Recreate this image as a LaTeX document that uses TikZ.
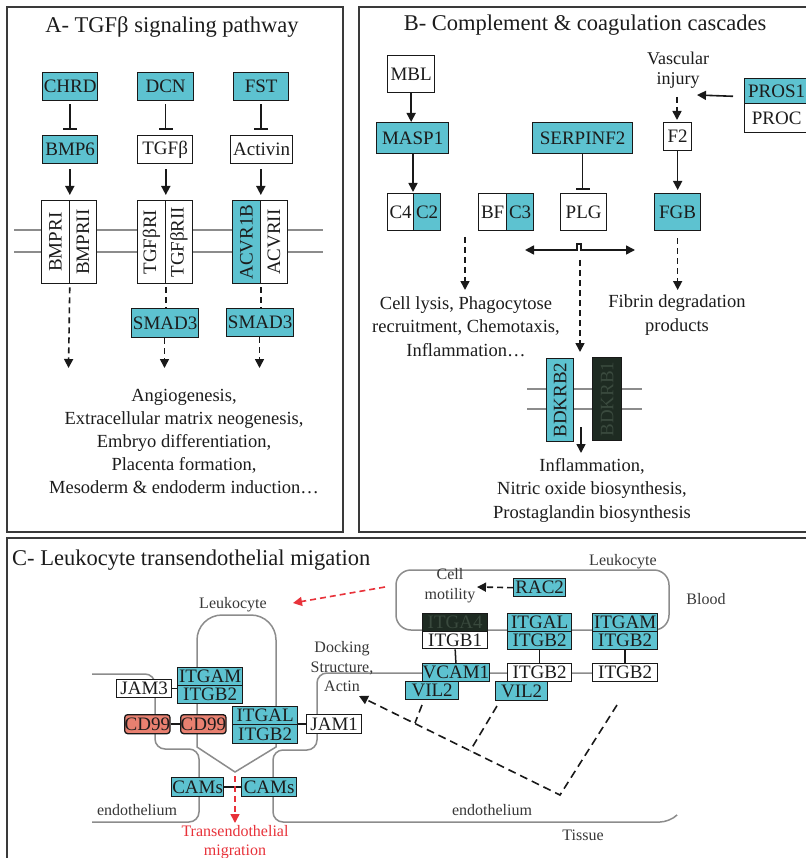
\documentclass[tikz,border=0pt]{standalone}
\usepackage{fontspec}
\setmainfont{Liberation Serif}
\usetikzlibrary{arrows.meta}
\definecolor{cy}{RGB}{93,194,208}
\definecolor{sal}{RGB}{232,128,112}
\definecolor{dk}{RGB}{30,43,34}
\definecolor{dktxt}{RGB}{58,74,62}
\definecolor{txt}{RGB}{28,28,28}
\definecolor{gr}{RGB}{140,140,140}
\definecolor{rd}{RGB}{232,50,58}
\definecolor{pnl}{RGB}{58,58,58}
\newcommand{\fsz}[2]{\fontsize{#1}{#2}\selectfont}
\begin{document}
\begin{tikzpicture}[x=1pt,y=-1pt,
  box/.style={draw=black!90,line width=1.3pt,inner sep=0pt,anchor=north west,text=txt,font=\fsz{19}{19}},
  cbox/.style={box,fill=cy},
  wbox/.style={box,fill=white},
  rbox/.style={box,fill=sal,rounded corners=3pt},
  dbox/.style={box,fill=dk,text=dktxt},
  cc/.style={font=\fsz{19}{19}},
  title/.style={font=\fsz{22.5}{22.5},text=txt,inner sep=0pt},
  lbl/.style={font=\fsz{18.5}{23.5},text=txt,align=center,inner sep=0pt},
  slbl/.style={font=\fsz{16}{19.5},text=black!78,align=center,inner sep=0pt},
  panel/.style={draw=pnl,line width=2pt},
  memb/.style={draw=gr,line width=1.6pt},
  cell/.style={draw=gr,line width=1.5pt},
  arr/.style={draw=black!90,line width=1.6pt,-{Triangle[length=9pt,width=9pt]}},
  darr/.style={arr,dash pattern=on 6pt off 4pt},
  larr/.style={arr,dash pattern=on 8pt off 5pt},
  dsh/.style={draw=black!90,line width=1.6pt,dash pattern=on 6pt off 4pt},
  ldsh/.style={draw=black!90,line width=1.6pt,dash pattern=on 8pt off 5pt},
  inh/.style={draw=black!90,line width=1.5pt,-{Bar[width=14pt,line width=1.5pt]}},
  rarr/.style={draw=rd,line width=1.6pt,dash pattern=on 6pt off 4pt,-{Triangle[length=9pt,width=9pt]}},
  conn/.style={draw=black!90,line width=1.5pt}]
\useasboundingbox (0,0) rectangle (805,858);
\fill[white] (0,0) rectangle (805,858);
% panels
\draw[panel] (7,7) rectangle (343,532);
\draw[panel] (359,7) rectangle (820,532);
\draw[panel] (7,538) rectangle (820,875);

% ---------------- Panel A
\node[title] (tA) at (172,27) {A- TGFβ signaling pathway};
\node[cbox,minimum width=55,minimum height=28] (chrd) at (42,72) {CHRD};
\node[cbox,minimum width=56,minimum height=28] (dcn) at (137,72) {DCN};
\node[cbox,minimum width=55,minimum height=28] (fst) at (233,72) {FST};
\node[cbox,minimum width=55,minimum height=28] (bmp6) at (42,135) {BMP6};
\node[wbox,minimum width=55,minimum height=28] (tgfb) at (137,135) {TGFβ};
\node[wbox,minimum width=62,minimum height=28] (act) at (230,135) {Activin};
\draw[inh,shorten <=3pt,shorten >=5pt] (chrd.south) -- (chrd.south |- bmp6.north);
\draw[inh,shorten <=3pt,shorten >=5pt] (dcn.south) -- (dcn.south |- tgfb.north);
\draw[inh,shorten <=3pt,shorten >=5pt] (fst.south) -- (fst.south |- act.north);
\draw[memb] (14,230) -- (323,230);
\draw[memb] (14,252) -- (323,252);
\node[wbox,minimum width=27.5,minimum height=83] (bmpr1) at (41,200) {\rotatebox{90}{BMPRI}};
\node[wbox,minimum width=27.5,minimum height=83] (bmpr2) at (68.5,200) {\rotatebox{90}{BMPRII}};
\node[wbox,minimum width=27.5,minimum height=83] (tgfr1) at (137,200) {\rotatebox{90}{TGFβRI}};
\node[wbox,minimum width=27.5,minimum height=83] (tgfr2) at (164.5,200) {\rotatebox{90}{TGFβRII}};
\node[cbox,minimum width=27.5,minimum height=83] (acvr1) at (232,200) {\rotatebox{90}{ACVR1B}};
\node[wbox,minimum width=27.5,minimum height=83] (acvr2) at (259.5,200) {\rotatebox{90}{ACVRII}};
\draw[arr,shorten <=5pt,shorten >=5pt] (bmpr1.north east |- bmp6.south) -- (bmpr1.north east);
\draw[arr,shorten <=5pt,shorten >=5pt] (tgfr1.north east |- tgfb.south) -- (tgfr1.north east);
\draw[arr,shorten <=5pt,shorten >=5pt] (acvr1.north east |- act.south) -- (acvr1.north east);
\node[cbox,minimum width=67,minimum height=29] (smad3a) at (131,308) {SMAD3};
\node[cbox,minimum width=67,minimum height=28] (smad3b) at (226,308) {SMAD3};
\coordinate (ea1) at (68.5,368);
\coordinate (ea2) at (164.5,368);
\coordinate (ea3) at (259.5,368);
\draw[darr,shorten <=3pt] (bmpr1.south east) -- (ea1);
\draw[dsh,shorten <=3pt] (tgfr1.south east) -- (tgfr1.south east |- smad3a.north);
\draw[dsh,shorten <=3pt] (acvr1.south east) -- (acvr1.south east |- smad3b.north);
\draw[darr] (ea2 |- smad3a.south) -- (ea2);
\draw[darr] (ea3 |- smad3b.south) -- (ea3);
\node[lbl,font=\fsz{18.5}{23.2}] (txA) at (184,441.5) {Angiogenesis,\\Extracellular matrix neogenesis,\\Embryo differentiation,\\Placenta formation,\\Mesoderm \& endoderm induction…};

% ---------------- Panel B
\node[title] (tB) at (585,25) {B- Complement \& coagulation cascades};
\node[wbox,minimum width=47,minimum height=37] (mbl) at (387,55) {MBL};
\node[cbox,minimum width=72,minimum height=31] (masp1) at (376,122) {MASP1};
\node[wbox,minimum width=26,minimum height=37] (c4) at (387,193) {C4};
\node[cbox,minimum width=27,minimum height=37] (c2) at (413,193) {C2};
\node[wbox,minimum width=28,minimum height=37] (bf) at (478,193) {BF};
\node[cbox,minimum width=27,minimum height=37] (c3) at (506,193) {C3};
\node[cbox,minimum width=100,minimum height=31] (serp) at (532,122) {SERPINF2};
\node[wbox,minimum width=46,minimum height=37] (plg) at (560,193) {PLG};
\node[wbox,minimum width=28,minimum height=28] (f2) at (663,122) {F2};
\node[cbox,minimum width=46,minimum height=37] (fgb) at (654,193) {FGB};
\node[cbox,minimum width=64,minimum height=25] (pros1) at (744,78) {PROS1};
\node[wbox,minimum width=64,minimum height=29] (proc) at (744,103) {PROC};
\draw[arr] (mbl.south) -- (mbl.south |- masp1.north);
\draw[arr,shorten >=1pt] (c2.north west |- masp1.south) -- (c2.north west);
\draw[inh,shorten >=3pt] (serp.south) -- (serp.south |- plg.north);
\node[lbl,font=\fsz{18}{20}] (vasc) at (678,70) {Vascular\\injury};
\coordinate (vi1) at (677,97);
\draw[darr,shorten >=2pt] (vi1) -- (vi1 |- f2.north);
\coordinate (pt) at (697,95);
\draw[arr] ([xshift=-11pt,yshift=8pt]pros1.south west) -- (pt);
\draw[arr,shorten >=3pt] (f2.south) -- (f2.south |- fgb.north);
\coordinate (d1s) at (465,237);
\coordinate (d1e) at (465,290);
\draw[darr] (d1s) -- (d1e);
\draw[darr,shorten <=7pt] (fgb.south) -- (fgb.south |- d1e);
\coordinate (dbl) at (525,250);
\coordinate (dbr) at (635,250);
\draw[draw=black!90,line width=1.6pt,{Triangle[length=9pt,width=9pt]}-{Triangle[length=9pt,width=9pt]}] (dbl) -- (577,250) -- (577,244) -- (581,244) -- (581,250) -- (dbr);
\coordinate (p1) at (580,260);
\coordinate (p2) at (580,352);
\draw[darr] (p1) -- (p2);
\node[lbl] (txB1) at (466,326.5) {Cell lysis, Phagocytose\\recruitment, Chemotaxis,\\Inflammation…};
\node[lbl] (txB2) at (677,315) {Fibrin degradation\\products};
\draw[memb] (527,389) -- (642,389);
\draw[memb] (527,409) -- (642,409);
\node[cbox,minimum width=27,minimum height=83] (bdk2) at (546,358) {\rotatebox{90}{BDKRB2}};
\node[dbox,minimum width=29,minimum height=83] (bdk1) at (592,357) {\rotatebox{90}{BDKRB1}};
\coordinate (b1) at (581,427);
\coordinate (b2) at (581,453);
\draw[arr] (b1) -- (b2);
\node[lbl] (txB3) at (592,490) {Inflammation,\\Nitric oxide biosynthesis,\\Prostaglandin biosynthesis};

% ---------------- Panel C
\node[title,anchor=west] (tC) at (12,560) {C- Leukocyte transendothelial migation};
% cells
\draw[cell] (235,772) -- (197,747) -- (197,640) arc[start angle=180,end angle=270,radius=25] -- (251,615) arc[start angle=270,end angle=360,radius=25] -- (276,747) -- cycle;
\draw[cell,rounded corners=15pt] (396,570) rectangle (669,630);
\draw[cell,rounded corners=10pt] (92,674) -- (155,674) -- (155,749) -- (199,749) -- (199,822) -- (92,822);
\draw[cell,rounded corners=10pt] (657,673) -- (317,673) -- (317,750) -- (273,750) -- (273,822) -- (670,822) -- (677,815);
% labels
\node[slbl] (leu1) at (233,605) {Leukocyte};
\node[slbl] (leu2) at (623,562) {Leukocyte};
\node[slbl] (mot) at (450,585.5) {Cell\\motility};
\node[slbl] (blood) at (706,599) {Blood};
\node[slbl] (dock) at (342,667) {Docking\\Structure,\\Actin};
\node[slbl] (endo1) at (137,810) {endothelium};
\node[slbl] (endo2) at (492,810) {endothelium};
\node[slbl] (tis) at (583,835) {Tissue};
\node[slbl,text=rd] (trans) at (235,842) {Transendothelial\\migration};
% left boxes
\node[cbox,cc,minimum width=65,minimum height=18] (itgam1) at (177,667) {ITGAM};
\node[cbox,cc,minimum width=65,minimum height=18] (itgb2a) at (177,685) {ITGB2};
\node[wbox,cc,minimum width=55,minimum height=18] (jam3) at (116,679) {JAM3};
\node[rbox,cc,minimum width=45,minimum height=19] (cd99a) at (124,714) {CD99};
\node[rbox,cc,minimum width=44,minimum height=19] (cd99b) at (180,714) {CD99};
\node[cbox,cc,minimum width=65,minimum height=18] (itgal1) at (232,706) {ITGAL};
\node[cbox,cc,minimum width=65,minimum height=19] (itgb2b) at (232,724) {ITGB2};
\node[wbox,cc,minimum width=55,minimum height=19] (jam1) at (306,714) {JAM1};
\node[cbox,cc,minimum width=52,minimum height=19] (cams1) at (171,777) {CAMs};
\node[cbox,cc,minimum width=55,minimum height=19] (cams2) at (241,777) {CAMs};
\draw[conn] (jam3.east) -- (jam3.east -| itgb2a.west);
\draw[conn] (cd99a.east) -- (cd99b.west);
\draw[conn] (jam1.west -| itgb2b.east) -- (jam1.west);
\draw[conn] (cams1.east) -- (cams2.west);
\coordinate (tm1) at (235,776);
\coordinate (tm2) at (235,823);
\draw[rarr] (tm1) -- (tm2);
\coordinate (r1) at (385,587);
\coordinate (r2) at (293,603);
\draw[rarr] (r1) -- (r2);
% right boxes
\node[cbox,cc,minimum width=52,minimum height=18] (rac2) at (513,578) {RAC2};
\coordinate (cm) at (477,587);
\draw[darr] (rac2.west) -- (cm);
\node[dbox,cc,minimum width=65,minimum height=18] (itga4) at (422,613) {ITGA4};
\node[wbox,cc,minimum width=65,minimum height=17] (itgb1) at (422,631) {ITGB1};
\node[cbox,cc,minimum width=64,minimum height=18] (itgal2) at (507,613) {ITGAL};
\node[cbox,cc,minimum width=64,minimum height=18] (itgb2c) at (507,631) {ITGB2};
\node[cbox,cc,minimum width=65,minimum height=18] (itgam2) at (592,613) {ITGAM};
\node[cbox,cc,minimum width=65,minimum height=18] (itgb2d) at (592,631) {ITGB2};
\node[cbox,cc,minimum width=65,minimum height=18] (vcam1) at (422,663) {VCAM1};
\node[cbox,cc,minimum width=53,minimum height=18] (vil2a) at (405,681) {VIL2};
\node[wbox,cc,minimum width=64,minimum height=18] (itgb2e) at (507,663) {ITGB2};
\node[cbox,cc,minimum width=52,minimum height=19] (vil2b) at (495,681) {VIL2};
\node[wbox,cc,minimum width=65,minimum height=18] (itgb2f) at (592,663) {ITGB2};
\draw[conn] (itgb1.south) -- (vcam1.north);
\draw[conn] (itgb2c.south) -- (itgb2e.north);
\draw[conn] (itgb2d.south) -- (itgb2f.north);
% dashed network
\coordinate (n1) at (617,705);
\coordinate (n2) at (560,795);
\coordinate (n3) at (359,696);
\draw[larr] (n1) -- (n2) -- (n3);
\coordinate (v1s) at (422,705);
\coordinate (v1e) at (415,723);
\coordinate (v2s) at (497,706);
\coordinate (v2e) at (470,751);
\draw[ldsh] (v1s) -- (v1e);
\draw[ldsh] (v2s) -- (v2e);
\end{tikzpicture}
\end{document}
